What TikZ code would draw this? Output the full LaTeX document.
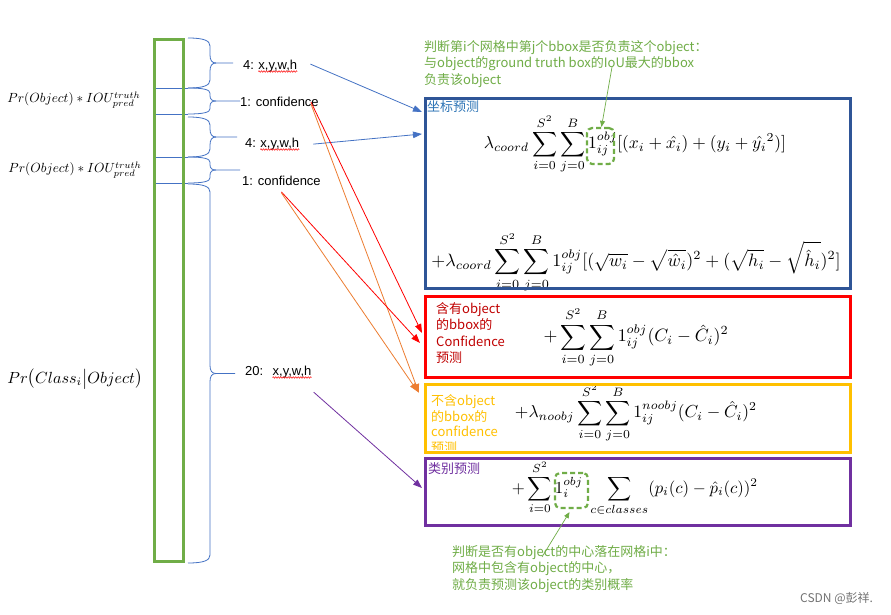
\documentclass[tikz,border=0pt]{standalone}
\usepackage{amsmath}
\usepackage{amssymb}
\usepackage{graphicx}
\usepackage{fontspec}
\usepackage{tikz}
\usetikzlibrary{arrows.meta,positioning,decorations.pathmorphing}
\newfontfamily\cjk{Noto Sans CJK SC}
\newfontfamily\arialfont{Liberation Sans}

\definecolor{barGreen}{HTML}{70AD47}
\definecolor{lineBlue}{HTML}{4472C4}
\definecolor{boxBlue}{HTML}{2F5597}
\definecolor{titleBlue}{HTML}{2E75B6}
\definecolor{boxRed}{HTML}{FF0000}
\definecolor{textRed}{HTML}{C00000}
\definecolor{boxYellow}{HTML}{FFC000}
\definecolor{boxPurple}{HTML}{7030A0}
\definecolor{arrOrange}{HTML}{ED7D31}

% formula scaled to a given width
\newcommand{\fml}[2]{\resizebox{#1pt}{!}{$\displaystyle #2$}}
% brace: x0, ytop, ybottom, xtip
\newcommand{\gridbrace}[4]{%
  \pgfmathsetmacro\brmid{(#2+#3)/2}%
  \pgfmathsetmacro\brrad{min(8,(#3-#2)/5)}%
  \draw[bracestyle] (#1,#2) .. controls ({#1+16},#2) and ({#1+22},{#2+\brrad/3}) .. ({#1+22},{#2+\brrad})
    -- ({#1+22},{\brmid-\brrad}) .. controls ({#1+22},{\brmid-\brrad/3}) and ({#1+24},\brmid) .. ({#1+28},\brmid)
    -- (#4,\brmid);
  \draw[bracestyle] ({#1+28},\brmid) .. controls ({#1+24},\brmid) and ({#1+22},{\brmid+\brrad/3}) .. ({#1+22},{\brmid+\brrad})
    -- ({#1+22},{#3-\brrad}) .. controls ({#1+22},{#3-\brrad/3}) and ({#1+16},#3) .. (#1,#3);
}

\tikzset{
  bracestyle/.style={draw=lineBlue, line width=0.8pt},
  gridline/.style={draw=lineBlue, line width=0.9pt},
  lbl/.style={font=\arialfont\fontsize{13}{15}\selectfont, inner sep=1pt},
  squiggle/.style={draw=red, line width=0.5pt, decorate,
    decoration={snake, amplitude=0.8pt, segment length=2.5pt}},
  lossbox/.style={draw=#1, line width=2.6pt, anchor=north west, minimum width=425pt, inner sep=0pt},
  boxtext/.style={font=\cjk\fontsize{13}{16.3}\selectfont, align=left, inner sep=0pt},
  note/.style={font=\cjk\fontsize{13}{16.5}\selectfont, text=barGreen, align=left, inner sep=0pt},
  markbox/.style={draw=barGreen, line width=2.2pt, rounded corners=5pt, dash pattern=on 5pt off 3pt},
  arr/.style={draw=#1, line width=0.8pt, -{Triangle[length=9pt,width=6.5pt]}},
  greenarr/.style={draw=barGreen, line width=0.7pt, -{Triangle[length=6pt,width=5pt]}},
}

\begin{document}
\begin{tikzpicture}[x=1pt,y=-1pt]
\fill[white] (0,0) rectangle (891,615);
\useasboundingbox (0,0) rectangle (891,615);

% grid cell vector
\foreach \y in {88,114,157,183}
  \draw[gridline] (153,\y) -- (188,\y);
\draw[barGreen, line width=3pt] (154.5,39.5) rectangle (183.5,561.5);
\foreach \ya/\yb/\xt in {38/88/233, 88/114/240, 117/157/237, 157/183/240, 184/563/235}
  {\gridbrace{188}{\ya}{\yb}{\xt}}

% left labels
\node[inner sep=0pt] (pr1) at (74,100) {\resizebox{133pt}{!}{$Pr(Object)*IOU^{truth}_{pred}$}};
\node[inner sep=0pt] (pr2) at (75,170) {\resizebox{133pt}{!}{$Pr(Object)*IOU^{truth}_{pred}$}};
\node[inner sep=0pt] (pc) at (75,379) {\resizebox{135pt}{!}{$Pr\bigl(Class_i\big|Object\bigr)$}};

% brace labels
\node[lbl, anchor=west] (n1) at (242,65) {4:};
\node[lbl, anchor=base west] (xy1) at ([xshift=2pt]n1.base east) {x,y,w,h};
\node[lbl, anchor=west] (conf1) at (239,102) {1: confidence};
\node[lbl, anchor=west] (n3) at (244,143) {4:};
\node[lbl, anchor=base west] (xy3) at ([xshift=2pt]n3.base east) {x,y,w,h};
\node[lbl, anchor=west] (conf2) at (241,181) {1: confidence};
\node[lbl, anchor=west] (n5) at (244,371) {20:};
\node[lbl, anchor=base west] (xy5) at ([xshift=7pt]n5.base east) {x,y,w,h};
\foreach \n in {xy1,xy3,xy5}
  \draw[squiggle] ([yshift=-2pt,xshift=1pt]\n.base west) -- ([yshift=-2pt,xshift=-1pt]\n.base east);

% formulas
\node[inner sep=0pt] (f1) at (635,144) {\fml{302}{\lambda_{coord}\sum_{i=0}^{S^2}\sum_{j=0}^{B}1_{ij}^{obj}[(x_i+\hat{x_i})+(y_i+\hat{y_i}^{2})]}};
\node[inner sep=0pt] (f2) at (636,262) {\fml{409}{+\lambda_{coord}\sum_{i=0}^{S^2}\sum_{j=0}^{B}1_{ij}^{obj}[(\sqrt{w_i}-\sqrt{\hat{w}_i})^2+(\sqrt{h_i}-\sqrt{\hat{h}_i})^2]}};
\node[inner sep=0pt] (f3) at (636,337) {\fml{185}{+\sum_{i=0}^{S^2}\sum_{j=0}^{B}1_{ij}^{obj}(C_i-\hat{C}_i)^2}};
\node[inner sep=0pt] (f4) at (636,413) {\fml{242}{+\lambda_{noobj}\sum_{i=0}^{S^2}\sum_{j=0}^{B}1_{ij}^{noobj}(C_i-\hat{C}_i)^2}};
\node[inner sep=0pt] (f5) at (635,488) {\fml{246}{+\sum_{i=0}^{S^2}1_i^{obj}\;\sum_{c\in classes}(p_i(c)-\hat{p}_i(c))^2}};

% loss boxes
\node[lossbox=boxBlue, minimum height=190pt] (boxCoord) at (424,97) {};
\node[lossbox=boxRed, minimum height=81pt] (boxConf) at (424,295) {};
\node[lossbox=boxYellow, minimum height=68pt] (boxNoobj) at (424,383) {};
\node[lossbox=boxPurple, minimum height=67pt] (boxClass) at (424,457) {};

\node[boxtext, text=titleBlue, anchor=west] (tCoord) at (427,107) {坐标预测};
\node[boxtext, text=textRed, anchor=west] (tConf) at (436,333) {含有object\\的bbox的\\Confidence\\预测};
\begin{scope}
  \clip (425.3,384.3) rectangle (847.7,449.7);
  \node[boxtext, text=boxYellow, anchor=west, font=\cjk\fontsize{13}{15.7}\selectfont] (tNoobj) at (431,424) {不含object\\的bbox的\\confidence\\预测};
\end{scope}
\node[boxtext, text=boxPurple, anchor=west] (tClass) at (428,469) {类别预测};

% indicator marks and notes
\node[markbox, minimum width=27pt, minimum height=36pt] (mark1) at (600.5,146) {};
\node[markbox, minimum width=33pt, minimum height=35pt] (mark2) at (571.5,490.5) {};
\node[note, anchor=north west] (noteTop) at (424,40) {判断第i个网格中第j个bbox是否负责这个object：\\与object的ground truth box的IoU最大的bbox\\负责该object};
\node[note, anchor=north west] (noteBot) at (452,545) {判断是否有object的中心落在网格i中：\\网格中包含有object的中心，\\就负责预测该object的类别概率};
\coordinate (topStart) at (612,67);
\coordinate (botStart) at (542,557);
\draw[greenarr] (topStart) -- ([xshift=1pt]mark1.north);
\draw[greenarr] (botStart) -- ([xshift=-2pt,yshift=-3pt]mark2.south);

% arrows
\draw[arr=lineBlue] ([xshift=12pt,yshift=2pt]xy1.east) -- ([xshift=-2pt,yshift=-15pt]boxCoord.north west);
\draw[arr=lineBlue] ([xshift=13pt]xy3.east) -- ([xshift=-2pt,yshift=-37pt]boxCoord.north west);
\draw[arr=boxRed] ([xshift=-9pt]conf1.east) -- ([xshift=-2pt,yshift=-38pt]boxConf.north west);
\draw[arr=arrOrange] ([xshift=-9pt,yshift=-2pt]conf1.east) -- ([xshift=-5pt,yshift=-10pt]boxNoobj.north west);
\draw[arr=boxRed] ([yshift=-5pt]conf2.south) -- ([xshift=-4pt,yshift=-48pt]boxConf.north west);
\draw[arr=arrOrange] ([yshift=-6pt]conf2.south) -- ([xshift=-6pt,yshift=-9pt]boxNoobj.north west);
\draw[arr=boxPurple] ([xshift=1pt,yshift=-20pt]xy5.east) -- ([xshift=-2pt,yshift=-31pt]boxClass.north west);

\node[font=\cjk\fontsize{12}{14}\selectfont, text=black!55, anchor=west, inner sep=0pt] (csdn) at (800,598) {CSDN @彭祥.};
\end{tikzpicture}
\end{document}
